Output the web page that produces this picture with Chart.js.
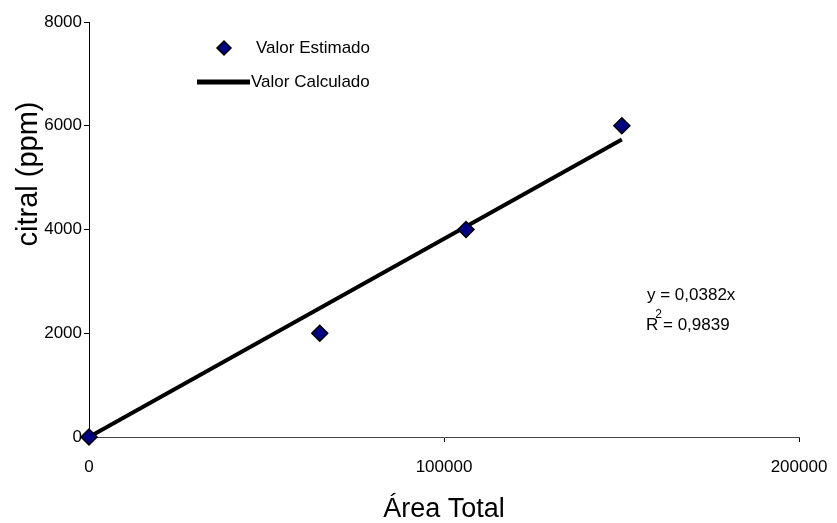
<!DOCTYPE html>
<html>
<head>
<meta charset="utf-8">
<script src="https://cdn.jsdelivr.net/npm/chart.js@4.4.0/dist/chart.umd.min.js"></script>
<style>
  html, body { margin: 0; padding: 0; background: #fff; }
  #wrap { width: 837px; height: 523px; }
</style>
</head>
<body>
<div id="wrap"><canvas id="chart"></canvas></div>
<script>
// measured points (área total vs citral ppm)
const areaTotal = [0, 65000, 106200, 150100];
const citralPpm = [0, 2000, 4000, 6000];
// fitted line y = 0,0382x, ends
const calcX = [0, 150100];
const calcY = [0, 5734];
const xTicks = [0, 100000, 200000];
const yTicks = [0, 2000, 4000, 6000, 8000];
const eqLines = ['y = 0,0382x', 'R', ' = 0,9839'];
const yTitle = 'citral (ppm)';

const FONT = 'Liberation Sans, Arial, sans-serif';
const SMALL = 17;

// legend, equation and y title drawn by hand (Excel-like placement)
const overlay = {
    id: 'overlay',
    afterDraw(chart) {
        const ctx = chart.ctx;
        const ds = chart.data.datasets;
        ctx.save();
        ctx.font = SMALL + 'px ' + FONT;
        ctx.fillStyle = '#000';
        ctx.textBaseline = 'middle';

        // estimated marker
        const mx = 224, my = 48, r = 7;
        ctx.beginPath();
        ctx.moveTo(mx, my - r);
        ctx.lineTo(mx + r, my);
        ctx.lineTo(mx, my + r);
        ctx.lineTo(mx - r, my);
        ctx.closePath();
        ctx.fillStyle = '#000080';
        ctx.fill();
        ctx.lineWidth = 1.5;
        ctx.strokeStyle = '#000';
        ctx.stroke();
        ctx.fillStyle = '#000';
        ctx.fillText(ds[0].label, 256, 48);

        // calculated line
        ctx.beginPath();
        ctx.moveTo(197, 82);
        ctx.lineTo(250, 82);
        ctx.lineWidth = 5;
        ctx.stroke();
        ctx.fillText(ds[1].label, 251, 82);

        // regression text
        ctx.fillText(eqLines[0], 647, 295);
        ctx.fillText(eqLines[1], 646, 325);
        const rw = ctx.measureText(eqLines[1]).width;
        ctx.font = '12px ' + FONT;
        ctx.fillText('2', 646 + rw - 3, 315);
        ctx.font = SMALL + 'px ' + FONT;
        ctx.fillText(eqLines[2], 646 + rw, 325);

        // y axis title, sits above the plot centre like the original
        ctx.translate(29, 174);
        ctx.rotate(-Math.PI / 2);
        ctx.textAlign = 'center';
        ctx.font = '29px ' + FONT;
        ctx.fillText(yTitle, 0, 0);
        ctx.restore();
    }
};

new Chart(document.getElementById('chart'), {
    type: 'scatter',
    data: {
        datasets: [
            {
                label: 'Valor Estimado',
                data: areaTotal.map((x, i) => ({ x: x, y: citralPpm[i] })),
                pointStyle: 'rectRot',
                pointRadius: 8,
                pointBackgroundColor: '#000080',
                pointBorderColor: '#000',
                pointBorderWidth: 1.5,
                showLine: false,
                order: 0
            },
            {
                label: 'Valor Calculado',
                data: calcX.map((x, i) => ({ x: x, y: calcY[i] })),
                showLine: true,
                borderColor: '#000',
                borderWidth: 4,
                pointRadius: 0,
                fill: false,
                order: 1
            }
        ]
    },
    options: {
        responsive: true,
        maintainAspectRatio: false,
        animation: false,
        clip: false,
        layout: { padding: { left: 0, right: 38, top: 22, bottom: 0 } },
        scales: {
            x: {
                type: 'linear',
                min: 0,
                max: 200000,
                afterFit: s => { s.height = 86; s.paddingLeft = 0; s.paddingRight = 0; },
                afterBuildTicks: s => { s.ticks = xTicks.map(v => ({ value: v })); },
                grid: { display: true, drawOnChartArea: false, drawTicks: true, tickLength: 5, color: '#000' },
                border: { color: '#444', width: 1 },
                ticks: { color: '#000', padding: 15, maxRotation: 0, callback: v => String(v),
                         font: { family: FONT, size: SMALL } },
                title: { display: true, text: 'Área Total', color: '#000', padding: { top: 0, bottom: 0 },
                         font: { family: FONT, size: 27, lineHeight: 1 } }
            },
            y: {
                type: 'linear',
                min: 0,
                max: 8000,
                afterFit: s => { s.width = 89; s.paddingTop = 0; s.paddingBottom = 0; },
                afterBuildTicks: s => { s.ticks = yTicks.map(v => ({ value: v })); },
                grid: { display: true, drawOnChartArea: false, drawTicks: true, tickLength: 5, color: '#000' },
                border: { color: '#000', width: 1 },
                ticks: { color: '#000', padding: 2, callback: v => String(v),
                         font: { family: FONT, size: SMALL } }
            }
        },
        plugins: {
            legend: { display: false },
            tooltip: { enabled: false }
        }
    },
    plugins: [overlay]
});
</script>
</body>
</html>
